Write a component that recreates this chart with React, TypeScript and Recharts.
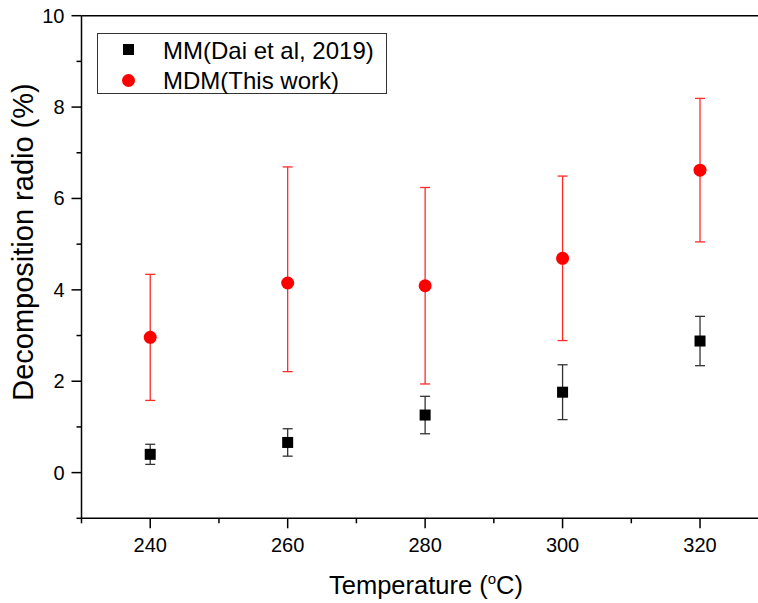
import React from 'react'
import {
  ScatterChart, Scatter, XAxis, YAxis, ErrorBar, ReferenceLine, Legend, Label
} from 'recharts'

// temperatures (°C)
const temps = [240, 260, 280, 300, 320]
// MM (Dai et al, 2019)
const mmValues = [0.40, 0.66, 1.26, 1.76, 2.88]
const mmErr = [0.22, 0.30, 0.41, 0.60, 0.54]
// MDM (This work), lower / upper error
const mdmValues = [2.96, 4.15, 4.09, 4.69, 6.62]
const mdmErrLow = [1.38, 1.94, 2.15, 1.80, 1.57]
const mdmErrHigh = [1.38, 2.54, 2.15, 1.80, 1.57]

const xMajor = [240, 260, 280, 300, 320]
const xMinor = [230, 250, 270, 290, 310, 330]
const yMajor = [0, 2, 4, 6, 8, 10]
const yMinor = [-1, 1, 3, 5, 7, 9]

const seriesNames = ['MM(Dai et al, 2019)', 'MDM(This work)']

const mmData = temps.map((t, i) => ({ t, v: mmValues[i], err: mmErr[i] }))
const mdmData = temps.map((t, i) => ({ t, v: mdmValues[i], err: [mdmErrLow[i], mdmErrHigh[i]] }))

const FONT = 'Arial, "Liberation Sans", sans-serif'

// eslint-disable-next-line @typescript-eslint/no-explicit-any
function XTick({ x, y, payload }: any) {
  const major = xMajor.includes(payload.value)
  return (
    <g>
      <line x1={x} x2={x} y1={y} y2={y + (major ? 10 : 5)} stroke="#000" strokeWidth={1.5} />
      {major && (
        <text x={x} y={y + 34} textAnchor="middle" fontSize={20} fontFamily={FONT} fill="#000">
          {payload.value}
        </text>
      )}
    </g>
  )
}

// eslint-disable-next-line @typescript-eslint/no-explicit-any
function YTick({ x, y, payload }: any) {
  const major = yMajor.includes(payload.value)
  return (
    <g>
      <line x1={x - (major ? 10 : 5)} x2={x} y1={y} y2={y} stroke="#000" strokeWidth={1.5} />
      {major && (
        <text x={x - 17} y={y + 7} textAnchor="end" fontSize={20} fontFamily={FONT} fill="#000">
          {payload.value}
        </text>
      )}
    </g>
  )
}

// eslint-disable-next-line @typescript-eslint/no-explicit-any
function SquareDot({ cx, cy }: any) {
  return <rect x={cx - 5.5} y={cy - 5.5} width={11} height={11} fill="#000" />
}

// eslint-disable-next-line @typescript-eslint/no-explicit-any
function CircleDot({ cx, cy }: any) {
  return <circle cx={cx} cy={cy} r={6.5} fill="#ff0000" />
}

function LegendBox() {
  return (
    <div style={{
      position: 'relative', width: 290, height: 61, border: '1px solid #333',
      boxSizing: 'border-box', background: '#fff', fontFamily: FONT, fontSize: 24, lineHeight: '24px', color: '#000'
    }}>
      <div style={{ position: 'absolute', left: 25, top: 10, width: 11, height: 11, background: '#000' }} />
      <div style={{ position: 'absolute', left: 24, top: 40, width: 13, height: 13, borderRadius: '50%', background: '#ff0000' }} />
      <div style={{ position: 'absolute', left: 65, top: 5, whiteSpace: 'nowrap' }}>{seriesNames[0]}</div>
      <div style={{ position: 'absolute', left: 65, top: 35, whiteSpace: 'nowrap' }}>{seriesNames[1]}</div>
    </div>
  )
}

export default function App() {
  return (
    <div style={{ position: 'absolute', left: 0, top: 0, width: 758, height: 603, overflow: 'hidden', background: '#fff' }}>
      <ScatterChart width={790} height={603} margin={{ top: 15.7, right: 21.25, left: 0, bottom: 0 }}>
        <XAxis
          type="number" dataKey="t" domain={[230, 330]} ticks={[...xMajor, ...xMinor].sort((a, b) => a - b)}
          interval={0} tickSize={0} tickMargin={0} tickLine={false} tick={<XTick />}
          height={84.7} axisLine={{ stroke: '#000', strokeWidth: 1.5 }} allowDataOverflow
        >
          <Label content={() => (
            <text x={426} y={594} textAnchor="middle" fontSize={25.5} fontFamily={FONT} fill="#000">
              Temperature (<tspan dy={-10} fontSize={15}>o</tspan><tspan dy={10}>C)</tspan>
            </text>
          )} />
        </XAxis>
        <YAxis
          type="number" dataKey="v" domain={[-1, 10]} ticks={[...yMajor, ...yMinor].sort((a, b) => a - b)}
          interval={0} tickSize={0} tickMargin={0} tickLine={false} tick={<YTick />}
          width={81.5} axisLine={{ stroke: '#000', strokeWidth: 1.5 }} allowDataOverflow
        >
          <Label content={() => (
            <text x={33} y={242} transform="rotate(-90 33 242)" textAnchor="middle" fontSize={29} fontFamily={FONT} fill="#000">
              Decomposition radio (%)
            </text>
          )} />
        </YAxis>
        <ReferenceLine y={10} stroke="#000" strokeWidth={1.5} />
        <ReferenceLine x={330} stroke="#000" strokeWidth={1.5} />
        <Legend
          layout="vertical" align="center" verticalAlign="middle"
          wrapperStyle={{ left: 97, top: 33, width: 290, height: 61 }}
          content={() => <LegendBox />}
        />
        <Scatter name={seriesNames[1]} data={mdmData} shape={<CircleDot />} isAnimationActive={false}>
          <ErrorBar dataKey="err" direction="y" width={5} stroke="#ff2a2a" strokeWidth={1.3} />
        </Scatter>
        <Scatter name={seriesNames[0]} data={mmData} shape={<SquareDot />} isAnimationActive={false}>
          <ErrorBar dataKey="err" direction="y" width={5} stroke="#333" strokeWidth={1.3} />
        </Scatter>
      </ScatterChart>
    </div>
  )
}
